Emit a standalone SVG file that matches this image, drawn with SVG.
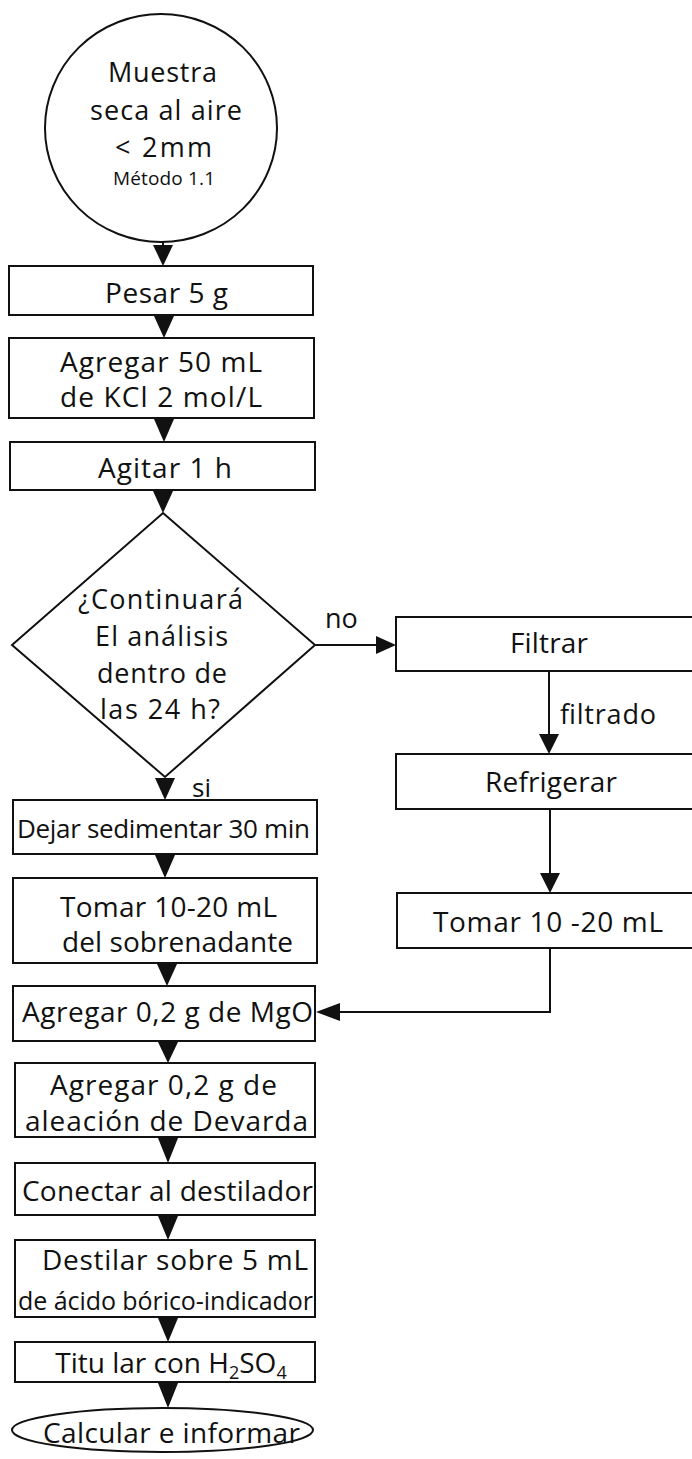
<svg xmlns="http://www.w3.org/2000/svg" width="692" height="1459" viewBox="0 0 692 1459">
  <style>
    .shape { fill: #fff; stroke: #111; stroke-width: 2; }
    .line { fill: none; stroke: #111; stroke-width: 2; }
    .head { fill: #111; stroke: none; }
    text { font-family: "Open Sans", "Liberation Sans", sans-serif; fill: #111; text-anchor: middle; }
    .big { font-size: 28px; }
    .mid { font-size: 27px; }
    .small { font-size: 19px; }
    .lbl { font-size: 27px; text-anchor: start; }
    .sub { font-size: 18px; }
  </style>

  <!-- connectors -->
  <g id="connectors">
    <!-- start circle to Pesar -->
    <line class="line" x1="163" y1="242" x2="163" y2="250"/>
    <polygon class="head" points="153,245 173,245 163,266"/>
    <!-- Pesar to Agregar KCl -->
    <polygon class="head" points="154,316 174,316 164,338"/>
    <!-- Agregar KCl to Agitar -->
    <polygon class="head" points="154,419 174,419 164,442"/>
    <!-- Agitar to decision -->
    <polygon class="head" points="153,491 173,491 163,513"/>
    <!-- decision: si -->
    <polygon class="head" points="155,778 175,778 165,800"/>
    <!-- decision: no -->
    <line class="line" x1="315" y1="645" x2="380" y2="645"/>
    <polygon class="head" points="376,636 376,654 396,645"/>
    <!-- Filtrar to Refrigerar -->
    <line class="line" x1="549" y1="671" x2="549" y2="738"/>
    <polygon class="head" points="539,734 559,734 549,754"/>
    <!-- Refrigerar to Tomar (right) -->
    <line class="line" x1="550" y1="809" x2="550" y2="877"/>
    <polygon class="head" points="540,873 560,873 550,893"/>
    <!-- Tomar (right) to Agregar MgO -->
    <polyline class="line" points="550,948 550,1012 336,1012"/>
    <polygon class="head" points="340,1003 340,1021 316,1012"/>
    <!-- left column -->
    <polygon class="head" points="155,855 175,855 165,878"/>
    <polygon class="head" points="157,964 177,964 167,986"/>
    <polygon class="head" points="158,1042 178,1042 168,1063"/>
    <polygon class="head" points="158,1138 178,1138 168,1163"/>
    <polygon class="head" points="158,1216 178,1216 168,1240"/>
    <polygon class="head" points="158,1318 178,1318 168,1342"/>
    <polygon class="head" points="158,1383 178,1383 168,1408"/>
  </g>

  <!-- start -->
  <g id="node-muestra">
    <ellipse class="shape" cx="161" cy="128" rx="116" ry="114"/>
    <text class="mid" x="162.5" y="82" textLength="109">Muestra</text>
    <text class="mid" x="166" y="120" textLength="152">seca al aire</text>
    <text class="mid" x="163.5" y="157" textLength="97">&lt; 2mm</text>
    <text class="small" x="164" y="185" textLength="102">Método 1.1</text>
  </g>

  <g id="node-pesar">
    <rect class="shape" x="9" y="266" width="304" height="49"/>
    <text class="big" x="166.5" y="303" textLength="123">Pesar 5 g</text>
  </g>

  <g id="node-kcl">
    <rect class="shape" x="9" y="338" width="305" height="80"/>
    <text class="big" x="161" y="372" textLength="202">Agregar 50 mL</text>
    <text class="big" x="161" y="407" textLength="202">de KCl 2 mol/L</text>
  </g>

  <g id="node-agitar">
    <rect class="shape" x="10" y="442" width="305" height="48"/>
    <text class="big" x="165" y="478" textLength="134">Agitar 1 h</text>
  </g>

  <g id="node-decision">
    <polygon class="shape" points="163,513 315,645 165,777 12,645"/>
    <text class="mid" x="160.5" y="609" textLength="165">¿Continuará</text>
    <text class="mid" x="161.5" y="646" textLength="133">El análisis</text>
    <text class="mid" x="162" y="683" textLength="130">dentro de</text>
    <text class="mid" x="160" y="719" textLength="120">las 24 h?</text>
  </g>

  <g id="labels">
    <text class="lbl" x="325" y="628">no</text>
    <text class="lbl" x="192" y="797" style="font-size:26px">si</text>
    <text class="lbl" x="560" y="724" textLength="96">filtrado</text>
  </g>

  <g id="node-filtrar">
    <rect class="shape" x="396" y="617" width="310" height="54"/>
    <text class="big" x="549" y="653" textLength="78">Filtrar</text>
  </g>

  <g id="node-refrigerar">
    <rect class="shape" x="396" y="754" width="310" height="55"/>
    <text class="big" x="551" y="792" textLength="132">Refrigerar</text>
  </g>

  <g id="node-tomar-filtrado">
    <rect class="shape" x="397" y="893" width="310" height="55"/>
    <text class="big" x="548" y="932" textLength="230">Tomar 10 -20 mL</text>
  </g>

  <g id="node-dejar">
    <rect class="shape" x="13" y="800" width="304" height="54"/>
    <text class="mid" x="163.5" y="838" textLength="293" style="font-size:26px">Dejar sedimentar 30 min</text>
  </g>

  <g id="node-tomar-sobrenadante">
    <rect class="shape" x="13" y="878" width="304" height="85"/>
    <text class="big" x="168.5" y="917" textLength="217">Tomar 10-20 mL</text>
    <text class="big" x="177.5" y="952" textLength="231">del sobrenadante</text>
  </g>

  <g id="node-mgo">
    <rect class="shape" x="13" y="986" width="302" height="55"/>
    <text class="big" x="167.5" y="1022" textLength="291">Agregar 0,2 g de MgO</text>
  </g>

  <g id="node-devarda">
    <rect class="shape" x="15" y="1063" width="300" height="74"/>
    <text class="big" x="163.5" y="1095" textLength="227">Agregar 0,2 g de</text>
    <text class="big" x="166.5" y="1131" textLength="283">aleación de Devarda</text>
  </g>

  <g id="node-conectar">
    <rect class="shape" x="15" y="1163" width="300" height="52"/>
    <text class="big" x="167.5" y="1201" textLength="291">Conectar al destilador</text>
  </g>

  <g id="node-destilar">
    <rect class="shape" x="15" y="1240" width="300" height="77"/>
    <text class="big" x="175" y="1270" textLength="266">Destilar sobre 5 mL</text>
    <text class="mid" x="165.5" y="1310" textLength="295" style="font-size:25px">de ácido bórico-indicador</text>
  </g>

  <g id="node-titular">
    <rect class="shape" x="15" y="1342" width="300" height="40"/>
    <text class="big" x="171" y="1373">Titu lar con H<tspan class="sub" dy="6">2</tspan><tspan dy="-6">SO</tspan><tspan class="sub" dy="6">4</tspan></text>
  </g>

  <g id="node-calcular">
    <ellipse class="shape" cx="162.5" cy="1430" rx="150.5" ry="22"/>
    <text class="big" x="171.5" y="1443" textLength="257">Calcular e informar</text>
  </g>
</svg>
